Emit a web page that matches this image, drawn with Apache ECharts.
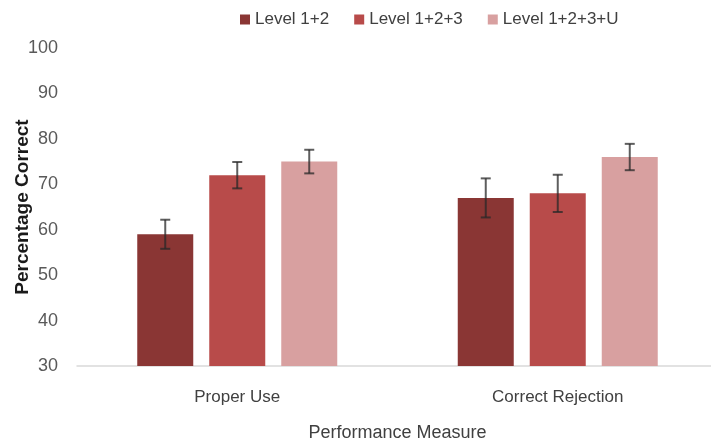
<!DOCTYPE html>
<html>
<head>
<meta charset="utf-8">
<script src="https://cdn.jsdelivr.net/npm/echarts@6/dist/echarts.min.js"></script>
<style>
  html, body { margin: 0; padding: 0; background: #fff; }
  #chart { width: 711px; height: 444px; }
</style>
</head>
<body>
<div id="chart"></div>
<script>
const categories = ['Proper Use', 'Correct Rejection'];
const levelNames = ['Level 1+2', 'Level 1+2+3', 'Level 1+2+3+U'];
const level12 = [59, 67];
const level123 = [72, 68];
const level123U = [75, 76];
// half-width of the error bars
const err12 = [3.2, 4.3];
const err123 = [2.9, 4.1];
const err123U = [2.6, 2.9];
const yTicks = [30, 40, 50, 60, 70, 80, 90, 100];

const font = '"Liberation Sans", Arial, sans-serif';
const colors = ['#8a3634', '#b84b4a', '#d8a0a0'];
const barWidth = 56;
const barGap = 16;

const values = [level12, level123, level123U];
const errors = [err12, err123, err123U];

const chart = echarts.init(document.getElementById('chart'));

const barSeries = levelNames.map((name, i) => ({
    name: name,
    type: 'bar',
    data: values[i],
    barWidth: barWidth,
    barGap: (barGap / barWidth * 100) + '%',
    itemStyle: { color: colors[i] },
    z: 2
}));

// error bars drawn on top of each bar
const errSeries = levelNames.map((name, i) => ({
    type: 'custom',
    name: name + ' err',
    data: values[i].map((v, k) => [k, v - errors[i][k], v + errors[i][k]]),
    z: 5,
    silent: true,
    renderItem: (params, api) => {
        const offset = (i - 1) * (barWidth + barGap);
        const lo = api.coord([api.value(0), api.value(1)]);
        const hi = api.coord([api.value(0), api.value(2)]);
        const x = lo[0] + offset;
        const cap = 5;
        const style = { stroke: 'rgba(40,40,40,0.75)', lineWidth: 2 };
        return {
            type: 'group',
            children: [
                { type: 'line', shape: { x1: x, y1: lo[1], x2: x, y2: hi[1] }, style: style },
                { type: 'line', shape: { x1: x - cap, y1: lo[1], x2: x + cap, y2: lo[1] }, style: style },
                { type: 'line', shape: { x1: x - cap, y1: hi[1], x2: x + cap, y2: hi[1] }, style: style }
            ]
        };
    }
}));

const option = {
    backgroundColor: '#ffffff',
    animation: false,
    color: colors,
    legend: {
        data: levelNames,
        left: 235,
        top: 6,
        itemWidth: 10,
        itemHeight: 10,
        itemGap: 25,
        icon: 'rect',
        textStyle: { fontFamily: font, fontSize: 17, color: '#404040' }
    },
    grid: { left: 77, right: -7, top: 48, bottom: 78, outerBoundsMode: 'none' },
    xAxis: {
        type: 'category',
        data: categories,
        name: 'Performance Measure',
        nameLocation: 'middle',
        nameGap: 58,
        nameMoveOverlap: false,
        nameTextStyle: { fontFamily: font, fontSize: 18, color: '#404040' },
        axisLine: { show: true, lineStyle: { color: '#d9d9d9', width: 1.5 } },
        axisTick: { show: false },
        axisLabel: { fontFamily: font, fontSize: 17, color: '#404040', margin: 23 }
    },
    yAxis: {
        type: 'value',
        min: yTicks[0],
        max: yTicks[yTicks.length - 1],
        interval: 10,
        name: 'Percentage Correct',
        nameLocation: 'middle',
        nameGap: 45,
        nameMoveOverlap: false,
        nameTextStyle: { fontFamily: font, fontSize: 19, fontWeight: 'bold', color: '#1a1a1a' },
        axisLine: { show: false },
        axisTick: { show: false },
        splitLine: { show: false },
        axisLabel: { fontFamily: font, fontSize: 18, color: '#595959', margin: 19 }
    },
    series: [...barSeries, ...errSeries]
};

chart.setOption(option);
</script>
</body>
</html>
